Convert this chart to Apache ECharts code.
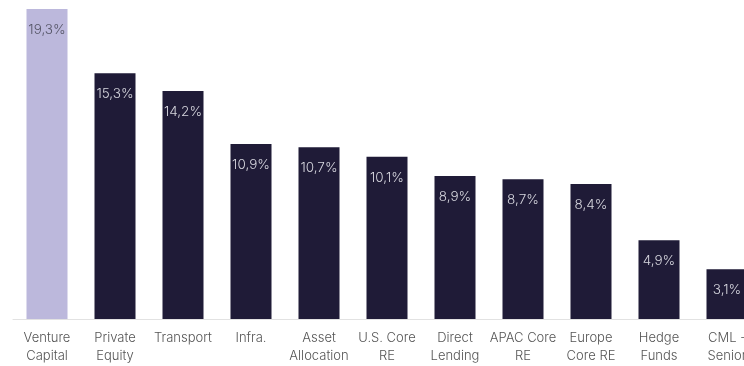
<!DOCTYPE html>
<html><head><meta charset="utf-8">
<script src="https://cdn.jsdelivr.net/npm/echarts@6/dist/echarts.min.js"></script>
<style>html,body{margin:0;padding:0;background:#fff;overflow:hidden;width:744px;height:366px}#c{width:761px;height:366px}</style>
</head><body><div id="c"></div>
<script>
const categories = ["Venture\nCapital","Private\nEquity","Transport","Infra.","Asset\nAllocation","U.S. Core\nRE","Direct\nLending","APAC Core\nRE","Europe\nCore RE","Hedge\nFunds","CML -\nSenior"];
const values = [19.3,15.3,14.2,10.9,10.7,10.1,8.9,8.7,8.4,4.9,3.1];
const highlightIndex = 0;

const chart = echarts.init(document.getElementById('c'), null, {renderer:'canvas'});
chart.setOption({
  animation:false,
  grid:{left:13,right:0,top:9,bottom:47},
  xAxis:{type:'category',data:categories,
    axisLine:{lineStyle:{color:'#e2e2e2',width:1}},
    axisTick:{show:false},
    axisLabel:{color:'#555',fontFamily:'Inter',fontWeight:300,fontSize:13,lineHeight:18,margin:10,interval:0}},
  yAxis:{type:'value',min:0,max:19.3,show:false,splitLine:{show:false}},
  series:[{type:'bar',barWidth:41,
    data:values.map((v,i)=>({value:v,itemStyle:{color:i===highlightIndex?'#bcb8dc':'#1f1b37'},
      label:{color:i===highlightIndex?'#555566':'#d6d6de'}})),
    label:{show:true,position:'insideTop',distance:14,fontFamily:'Inter',fontWeight:300,fontSize:13.5,
      formatter:p=>p.value.toFixed(1).replace('.',',')+'%'}
  }]
});
</script></body></html>
